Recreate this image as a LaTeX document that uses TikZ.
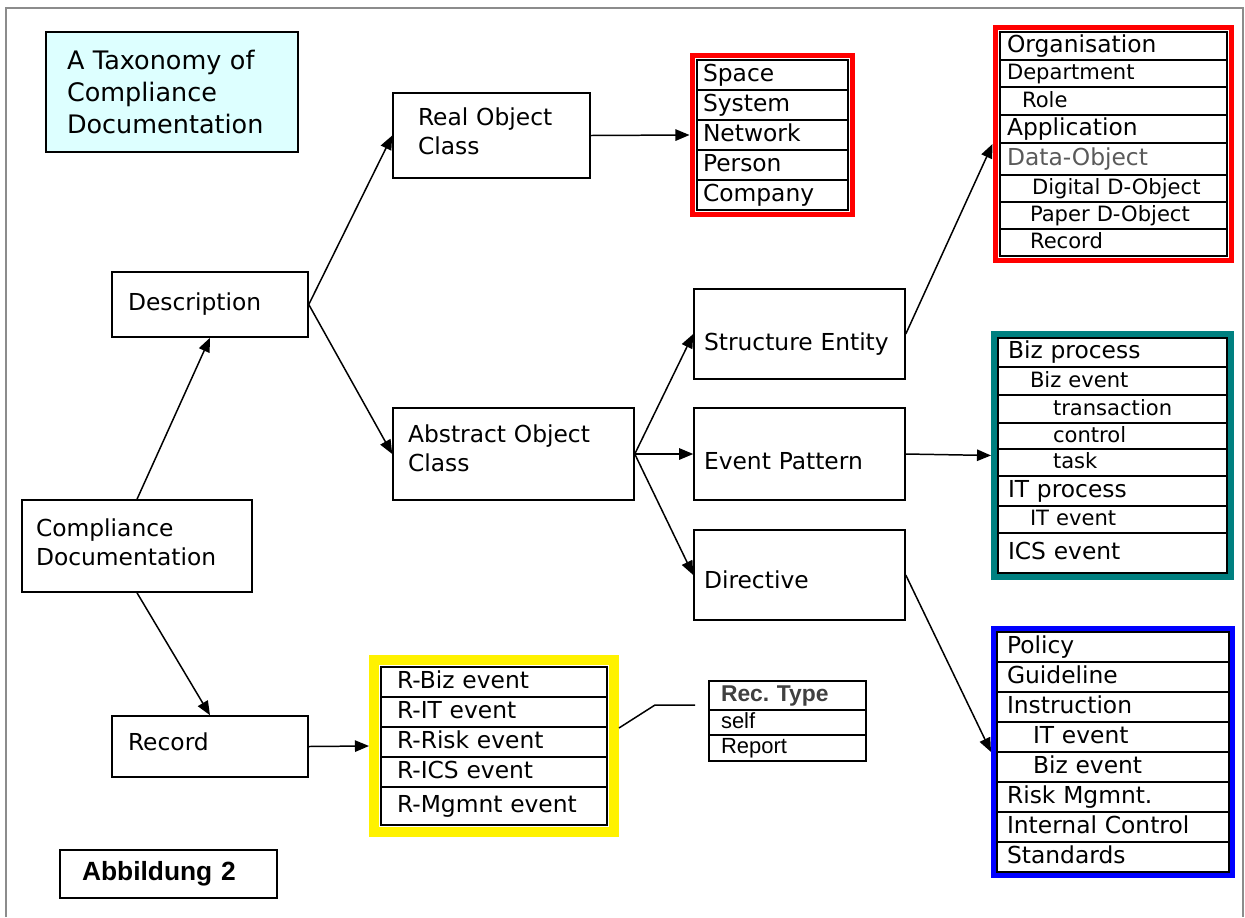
\documentclass[tikz,border=0pt]{standalone}
\usepackage{fontspec}
\setmainfont{DejaVu Sans}
\newfontfamily\arialfont{Liberation Sans}
\usetikzlibrary{positioning,fit,arrows.meta}

\definecolor{titlecyan}{RGB}{221,255,255}
\definecolor{tealframe}{RGB}{0,128,128}
\definecolor{framegray}{RGB}{140,140,140}
\definecolor{dataobjgray}{RGB}{90,90,90}

\tikzset{
  box/.style={draw, line width=0.9pt, align=left, font=\fontsize{13.3}{16.5}\selectfont},
  cell/.style={draw, line width=0.8pt, outer sep=0pt, inner ysep=0pt, align=left,
    text height=10pt, text depth=3pt, font=\fontsize{13.3}{15}\selectfont},
  small/.style={font=\fontsize{12}{14}\selectfont},
  listframe/.style={draw=#1, line width=2.85pt, inner sep=0.1cm},
  link/.style={->, line width=0.85pt},
  objcell/.style={cell, text width=2.78cm, inner xsep=0.12cm, minimum height=0.6cm},
  orgcell/.style={cell, text width=4.26cm, inner xsep=0.14cm, minimum height=#1},
  proccell/.style={cell, text width=4.18cm, inner xsep=0.2cm, minimum height=#1},
  rulecell/.style={cell, text width=4.24cm, inner xsep=0.2cm, minimum height=0.6cm},
  reccell/.style={cell, text width=3.88cm, inner xsep=0.32cm, minimum height=#1},
  typecell/.style={cell, text width=2.66cm, inner xsep=0.24cm, minimum height=#1,
    text height=9.5pt, text depth=3pt, font=\arialfont\fontsize{12.5}{14}\selectfont},
}

\begin{document}
\begin{tikzpicture}[x=0.02cm, y=-0.02cm, >={Triangle[length=8pt,width=6.5pt]}]
  \useasboundingbox (0,0) rectangle (1245,917);
  \draw[framegray, line width=1.2pt] (6,917) -- (6,8) -- (1243,8) -- (1243,917);

  % main boxes
  \node[box, fill=titlecyan, text width=4.2cm, inner xsep=0.42cm, minimum height=2.4cm,
    font=\fontsize{14.5}{18}\selectfont] (title) at (172,92) {A Taxonomy of\\Compliance\\Documentation};
  \node[box, text width=4.04cm, inner xsep=0.28cm, minimum height=1.84cm] (compdoc) at (137,546) {Compliance\\Documentation\vspace{4.5pt}};
  \node[box, text width=3.28cm, inner xsep=0.32cm, minimum height=1.3cm] (desc) at (210,304.5) {Description};
  \node[box, text width=3.28cm, inner xsep=0.32cm, minimum height=1.22cm, text depth=5.7pt] (record) at (210,746.5) {Record};
  \node[box, text width=2.94cm, inner xsep=0.5cm, minimum height=1.7cm] (realobj) at (491.5,135.5) {Real Object\\Class\vspace{4.5pt}};
  \node[box, text width=4.22cm, inner xsep=0.3cm, minimum height=1.84cm] (abstract) at (513.5,454) {Abstract Object\\Class\vspace{6.8pt}};
  \node[box, text width=3.82cm, inner xsep=0.2cm, minimum height=1.8cm, text height=21.8pt, text depth=3pt] (structure) at (799.5,334) {Structure Entity};
  \node[box, text width=3.82cm, inner xsep=0.2cm, minimum height=1.84cm, text height=20.1pt, text depth=3pt] (event) at (799.5,454) {Event Pattern};
  \node[box, text width=3.82cm, inner xsep=0.2cm, minimum height=1.8cm, text height=17.9pt, text depth=3pt] (directive) at (799.5,575) {Directive};
  \node[box, text width=3.46cm, inner xsep=0.44cm, minimum height=0.96cm,
    font=\arialfont\bfseries\fontsize{15}{17}\selectfont] (abb) at (168.5,874) {Abbildung 2};

  % real objects
  \node[objcell] (space) at (772.5,75) {Space};
  \node[objcell, below=0pt of space] (system) {System};
  \node[objcell, below=0pt of system] (network) {Network};
  \node[objcell, below=0pt of network] (person) {Person};
  \node[objcell, below=0pt of person] (company) {Company};
  \node[listframe=red, fit=(space)(company)] (objlist) {};

  % structure entities
  \node[orgcell=0.56cm] (organisation) at (1113.5,46) {Organisation};
  \node[orgcell=0.54cm, small, below=0pt of organisation] (department) {Department};
  \node[orgcell=0.56cm, small, below=0pt of department] (role) {\hspace{0.3cm}Role};
  \node[orgcell=0.56cm, below=0pt of role] (application) {Application};
  \node[orgcell=0.64cm, text=dataobjgray, below=0pt of application] (dataobj) {Data-Object};
  \node[orgcell=0.54cm, small, below=0pt of dataobj] (digital) {\hspace{0.5cm}Digital D-Object};
  \node[orgcell=0.54cm, small, below=0pt of digital] (paper) {\hspace{0.46cm}Paper D-Object};
  \node[orgcell=0.54cm, small, below=0pt of paper] (recobj) {\hspace{0.46cm}Record};
  \node[listframe=red, fit=(organisation)(recobj)] (orglist) {};

  % event patterns
  \node[proccell=0.58cm] (bizproc) at (1112.5,352.5) {Biz process};
  \node[proccell=0.56cm, small, below=0pt of bizproc] (bizevent) {\hspace{0.44cm}Biz event};
  \node[proccell=0.56cm, small, below=0pt of bizevent] (transaction) {\hspace{0.9cm}transaction};
  \node[proccell=0.52cm, small, below=0pt of transaction] (control) {\hspace{0.9cm}control};
  \node[proccell=0.54cm, small, below=0pt of control] (task) {\hspace{0.9cm}task};
  \node[proccell=0.6cm, below=0pt of task] (itproc) {IT process};
  \node[proccell=0.54cm, small, below=0pt of itproc] (itevent) {\hspace{0.44cm}IT event};
  \node[proccell=0.8cm, below=0pt of itevent] (icsevent) {ICS event};
  \node[listframe=tealframe, line width=3.4pt, inner sep=0.08cm, fit=(bizproc)(icsevent)] (proclist) {};

  % directives
  \node[rulecell] (policy) at (1113,647) {Policy};
  \node[rulecell, below=0pt of policy] (guideline) {Guideline};
  \node[rulecell, below=0pt of guideline] (instruction) {Instruction};
  \node[rulecell, below=0pt of instruction] (instrit) {\hspace{0.52cm}IT event};
  \node[rulecell, below=0pt of instrit] (instrbiz) {\hspace{0.52cm}Biz event};
  \node[rulecell, below=0pt of instrbiz] (riskmgmt) {Risk Mgmnt.};
  \node[rulecell, below=0pt of riskmgmt] (intctrl) {Internal Control};
  \node[rulecell, below=0pt of intctrl] (standards) {Standards};
  \node[listframe=blue, inner sep=0.07cm, fit=(policy)(standards)] (rulelist) {};

  % records
  \node[reccell=0.6cm] (rbiz) at (494,682) {R-Biz event};
  \node[reccell=0.6cm, below=0pt of rbiz] (rit) {R-IT event};
  \node[reccell=0.6cm, below=0pt of rit] (rrisk) {R-Risk event};
  \node[reccell=0.6cm, below=0pt of rrisk] (rics) {R-ICS event};
  \node[reccell=0.76cm, below=0pt of rics] (rmgmt) {R-Mgmnt event};
  \node[listframe=yellow, line width=5.7pt, inner sep=0.14cm, fit=(rbiz)(rmgmt)] (reclist) {};

  % record types
  \node[typecell=0.58cm, text=black!75, font=\arialfont\bfseries\fontsize{13}{15}\selectfont] (rectype) at (787.5,695.5) {Rec.\ Type};
  \node[typecell=0.5cm, below=0pt of rectype] (self) {self};
  \node[typecell=0.52cm, below=0pt of self] (report) {Report};
  \coordinate (callout) at (695,705);

  % connectors
  \draw[link] (compdoc.north) -- (desc.south);
  \draw[link] (compdoc.south) -- (record.north);
  \draw[link] (desc.east) -- (realobj.west);
  \draw[link] (desc.east) -- (abstract.west);
  \draw[link] (realobj.east) -- (objlist.west);
  \draw[link] (abstract.east) -- (structure.west);
  \draw[link] (abstract.east) -- (event.west);
  \draw[link] (abstract.east) -- (directive.west);
  \draw[link] (structure.east) -- (orglist.west);
  \draw[link] (event.east) -- (proclist.west);
  \draw[link] (directive.east) -- (rulelist.west);
  \draw[link] (record.east) -- (reclist.west);
  \draw[line width=0.85pt] (reclist.east) ++(0,-18) -- (655,705) -- (callout);
\end{tikzpicture}
\end{document}
